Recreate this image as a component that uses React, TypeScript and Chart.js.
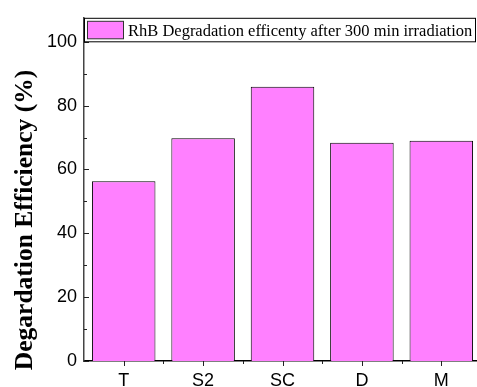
import React, { useEffect, useRef } from "react";
import { Chart, registerables } from "chart.js";

Chart.register(...registerables);

const categories = ["T", "S2", "SC", "D", "M"];
const efficiency = [56.3, 69.8, 85.9, 68.4, 69.0];
const yMajorTicks = [0, 20, 40, 60, 80, 100];
const yMinorTicks = [10, 30, 50, 70, 90];
const seriesLabel = "RhB Degradation efficenty after 300 min irradiation";
const yTitle = "Degardation Efficiency (%)";
const barFill = "#FF80FF";

const customPlugin = {
  id: "customDecor",
  afterDraw(chart: any) {
    const ctx = chart.ctx;
    const area = chart.chartArea;
    const x = chart.scales.x;
    const y = chart.scales.y;
    ctx.save();
    // y ticks (inward)
    ctx.strokeStyle = "#222";
    ctx.lineWidth = 1;
    yMajorTicks.forEach((v) => {
      const py = Math.round(y.getPixelForValue(v)) + 0.5;
      ctx.beginPath();
      ctx.moveTo(area.left, py);
      ctx.lineTo(area.left + 5, py);
      ctx.stroke();
    });
    yMinorTicks.forEach((v) => {
      const py = Math.round(y.getPixelForValue(v)) + 0.5;
      ctx.beginPath();
      ctx.moveTo(area.left, py);
      ctx.lineTo(area.left + 3, py);
      ctx.stroke();
    });
    // x ticks (outward)
    categories.forEach((_, i) => {
      const px = Math.round(x.getPixelForValue(i)) + 0.5;
      ctx.beginPath();
      ctx.moveTo(px, area.bottom);
      ctx.lineTo(px, area.bottom + 5);
      ctx.stroke();
      const bx = Math.round(x.getPixelForValue(i + 0.5)) + 0.5;
      ctx.beginPath();
      ctx.moveTo(bx, area.bottom);
      ctx.lineTo(bx, area.bottom + 3);
      ctx.stroke();
    });
    // legend box
    const lx = area.left + 0.5;
    const ly = area.top + 0.5;
    const lw = 476 - area.left - 1;
    const lh = 23.5;
    ctx.fillStyle = "#fff";
    ctx.fillRect(lx, ly, lw, lh);
    ctx.strokeStyle = "#000";
    ctx.strokeRect(lx, ly, lw, lh);
    ctx.fillStyle = barFill;
    ctx.fillRect(area.left + 3.5, area.top + 3.5, 36, 17.5);
    ctx.strokeStyle = "#333";
    ctx.strokeRect(area.left + 3.5, area.top + 3.5, 36, 17.5);
    ctx.fillStyle = "#000";
    ctx.font = "16.5px 'Liberation Serif', 'Times New Roman', serif";
    ctx.textBaseline = "alphabetic";
    ctx.textAlign = "left";
    ctx.fillText(seriesLabel, area.left + 44, area.top + 18.5);
    // y title
    ctx.translate(25, 220);
    ctx.rotate(-Math.PI / 2);
    ctx.font = "bold 25.5px 'Liberation Serif', 'Times New Roman', serif";
    ctx.textAlign = "center";
    ctx.textBaseline = "middle";
    ctx.fillText(yTitle, 0, 0);
    ctx.restore();
  },
};

export default function App() {
  const ref = useRef<HTMLCanvasElement>(null);
  useEffect(() => {
    if (!ref.current) return;
    const chart = new Chart(ref.current, {
      type: "bar",
      data: {
        labels: categories,
        datasets: [
          {
            label: seriesLabel,
            data: efficiency,
            backgroundColor: barFill,
            borderColor: "#000",
            borderWidth: 1,
            categoryPercentage: 1,
            barPercentage: 0.8,
          },
        ],
      },
      options: {
        responsive: false,
        animation: false,
        layout: { padding: { top: 16, left: 0, right: 0, bottom: 0 } },
        plugins: { legend: { display: false }, tooltip: { enabled: false } },
        scales: {
          x: {
            grid: { display: false, drawTicks: false },
            border: { display: true, color: "#000", width: 1.5 },
            ticks: {
              color: "#000",
              padding: 9,
              font: { family: "'Liberation Sans', Arial, sans-serif", size: 18 },
            },
            afterFit: (s: any) => {
              s.height = 26;
            },
          },
          y: {
            min: 0,
            max: 107.5,
            grid: { display: false, drawTicks: false },
            border: { display: true, color: "#444", width: 1.5 },
            ticks: {
              stepSize: 20,
              color: "#000",
              padding: 7,
              font: { family: "'Liberation Sans', Arial, sans-serif", size: 18 },
            },
            afterBuildTicks: (s: any) => {
              s.ticks = yMajorTicks.map((v) => ({ value: v }));
            },
            afterFit: (s: any) => {
              s.width = 84;
            },
          },
        },
      },
      plugins: [customPlugin],
    });
    return () => chart.destroy();
  }, []);
  return (
    <div
      style={{
        position: "fixed",
        left: 0,
        top: 0,
        width: 477,
        height: 387,
        overflow: "hidden",
        background: "#fff",
      }}
    >
      <canvas ref={ref} width={481} height={387} style={{ display: "block" }} />
    </div>
  );
}
